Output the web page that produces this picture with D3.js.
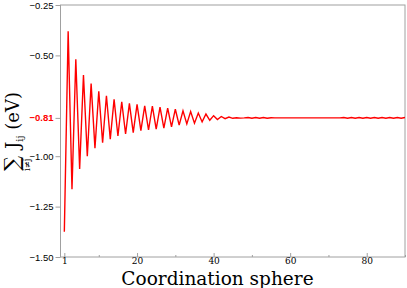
<!DOCTYPE html>
<html>
<head>
<meta charset="utf-8">
<script src="https://cdn.jsdelivr.net/npm/d3@7"></script>
<style>
body { margin: 0; background: #fff; }
svg { display: block; }
</style>
</head>
<body>
<div id="chart"></div>
<script>
// coordination sphere 1..90, summed exchange (eV)
var spheres = d3.range(1, 91);
var sumJ = [
  -1.375, -0.380, -1.164, -0.519, -1.063, -0.597, -1.000, -0.640, -0.960, -0.678,
  -0.933, -0.700, -0.915, -0.718, -0.900, -0.730, -0.890, -0.738, -0.883, -0.743,
  -0.873, -0.750, -0.870, -0.752, -0.866, -0.757, -0.861, -0.762, -0.855, -0.767,
  -0.846, -0.775, -0.840, -0.779, -0.836, -0.786, -0.830, -0.791, -0.822, -0.799,
  -0.818, -0.803, -0.814, -0.806, -0.812, -0.809, -0.811, -0.810, -0.808, -0.812,
  -0.808, -0.812, -0.808, -0.812, -0.809, -0.810, -0.810, -0.810, -0.810, -0.810,
  -0.810, -0.810, -0.810, -0.810, -0.810, -0.810, -0.810, -0.810, -0.810, -0.810,
  -0.810, -0.810, -0.810, -0.808, -0.812, -0.808, -0.812, -0.808, -0.812, -0.808,
  -0.812, -0.808, -0.812, -0.808, -0.812, -0.808, -0.812, -0.808, -0.812, -0.808
];
var yTicks = [-0.25, -0.50, -1.00, -1.25, -1.50];
var yMark = -0.81;
var xMajor = [1, 20, 40, 60, 80];
var xMinor = [10, 30, 50, 70, 90];

var W = 407, H = 288;
var svg = d3.select("#chart").append("svg")
    .attr("width", W)
    .attr("height", H);

var x = d3.scaleLinear().domain([0, 90]).range([60.5, 405]);
var y = d3.scaleLinear().domain([-1.5, -0.25]).range([257, 5]);
var grey = "#a0a0a0";

// frame
svg.append("rect")
    .attr("x", x(0)).attr("y", y(-0.25))
    .attr("width", x(90) - x(0)).attr("height", y(-1.5) - y(-0.25))
    .attr("fill", "none").attr("stroke", grey).attr("stroke-width", 1);

// y axis, ticks outside
var yAxis = svg.append("g")
    .attr("transform", "translate(" + x(0) + ",0)")
    .call(d3.axisLeft(y).tickValues(yTicks.concat([yMark])).tickSize(5).tickPadding(2)
        .tickFormat(d3.format(".2f")));
yAxis.select(".domain").remove();
yAxis.selectAll(".tick line").attr("stroke", grey);
yAxis.selectAll(".tick text")
    .attr("font-family", "Liberation Sans, Arial, sans-serif")
    .attr("font-size", 9.5)
    .attr("fill", "#000")
    .filter(function(d) { return d === yMark; })
    .attr("fill", "#ff0000")
    .attr("font-weight", "bold");

// x axis, ticks inside
var xAxis = svg.append("g")
    .attr("transform", "translate(0," + y(-1.5) + ")")
    .call(d3.axisBottom(x).tickValues(xMajor).tickSize(-4).tickPadding(1));
xAxis.select(".domain").remove();
xAxis.selectAll(".tick line").attr("stroke", grey);
xAxis.selectAll(".tick text")
    .attr("font-family", "DejaVu Serif, serif")
    .attr("font-size", 9)
    .attr("fill", "#000");

var xAxisMinor = svg.append("g")
    .attr("transform", "translate(0," + y(-1.5) + ")")
    .call(d3.axisBottom(x).tickValues(xMinor).tickSize(-2).tickFormat(""));
xAxisMinor.select(".domain").remove();
xAxisMinor.selectAll(".tick line").attr("stroke", grey);

// series
var line = d3.line()
    .x(function(d, i) { return x(spheres[i]); })
    .y(function(d) { return y(d); });

svg.append("path")
    .datum(sumJ)
    .attr("d", line)
    .attr("fill", "none")
    .attr("stroke", "#ff0000")
    .attr("stroke-width", 1.4)
    .attr("stroke-linejoin", "miter");

// x title
svg.append("text")
    .attr("x", 217.5).attr("y", 285)
    .attr("text-anchor", "middle")
    .attr("font-family", "DejaVu Serif, serif")
    .attr("font-size", 18.5)
    .text("Coordination sphere");

// y title
var yl = svg.append("g")
    .attr("transform", "translate(19,171) rotate(-90)")
    .attr("font-family", "DejaVu Serif, serif");
yl.append("text")
    .attr("x", 0).attr("y", 0)
    .attr("font-size", 21)
    .text("\u2211");
yl.append("text")
    .attr("x", 0).attr("y", 10.5)
    .attr("font-size", 8.5)
    .text("i\u2260j");
var t = yl.append("text")
    .attr("x", 22).attr("y", 0)
    .attr("font-size", 18);
t.append("tspan").text("J");
t.append("tspan").attr("font-size", 10).attr("dy", 4).text("ij");
t.append("tspan").attr("dy", -4).text(" (eV)");
</script>
</body>
</html>
